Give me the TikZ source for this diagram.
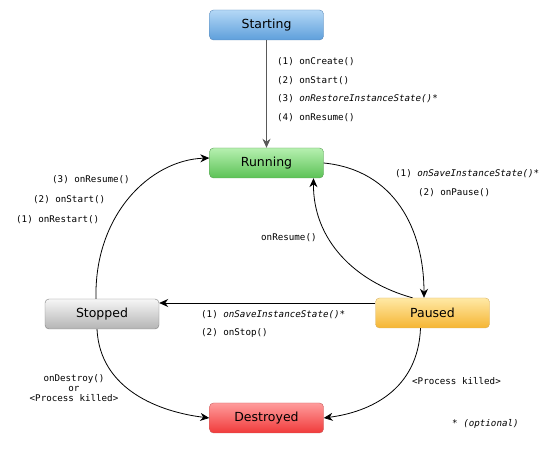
\documentclass[tikz,border=0pt]{standalone}
\usepackage{fontspec}
\setmainfont{DejaVu Sans}
\setmonofont{DejaVu Sans Mono}
\usetikzlibrary{arrows.meta,positioning}
\definecolor{bluetop}{HTML}{B4D8F6}
\definecolor{bluebot}{HTML}{5E9FDB}
\definecolor{blueline}{HTML}{5A88B8}
\definecolor{greentop}{HTML}{B6F0B0}
\definecolor{greenbot}{HTML}{5CC256}
\definecolor{greenline}{HTML}{5A9E55}
\definecolor{graytop}{HTML}{F6F6F6}
\definecolor{graybot}{HTML}{B4B4B4}
\definecolor{grayline}{HTML}{808080}
\definecolor{yellowtop}{HTML}{FFE9A6}
\definecolor{yellowbot}{HTML}{F5B533}
\definecolor{yellowline}{HTML}{D8B060}
\definecolor{redtop}{HTML}{FF9C9C}
\definecolor{redbot}{HTML}{F03A3A}
\definecolor{redline}{HTML}{C86060}
\tikzset{
  state/.style={rounded corners=4pt, minimum width=114pt, minimum height=30pt,
    inner sep=0pt, font=\fontsize{12.5}{14}\selectfont},
  shade/.style n args={3}{top color=#1, bottom color=#2, draw=#3},
  call/.style={inner sep=0pt, anchor=west, font=\fontsize{9.2}{10}\ttfamily},
  trans/.style={-{Stealth[length=9pt,width=8pt]}, thick, black},
}
\begin{document}
\begin{tikzpicture}[x=1pt,y=-1pt]
\useasboundingbox (0,0) rectangle (558,449);
%% states
\node[state,shade={bluetop}{bluebot}{blueline}] (start) at (266.5,25) {Starting};
\node[state,shade={greentop}{greenbot}{greenline}] (run) at (266.5,163) {Running};
\node[state,shade={graytop}{graybot}{grayline}] (stop) at (102,314) {Stopped};
\node[state,shade={yellowtop}{yellowbot}{yellowline}] (pause) at (432.5,313) {Paused};
\node[state,shade={redtop}{redbot}{redline}] (dest) at (266.5,418) {Destroyed};
%% transitions
\draw[trans, draw=black!65] (start) -- (run);
\draw[trans] (run.east) .. controls (395,170) and (424,230) .. (pause.north -| 424,0);
\draw[trans] ([xshift=-20pt]pause.north) .. controls (355,282) and (313,240) .. ([xshift=47pt]run.south);
\draw[trans] ([yshift=10pt]pause.west) -- ([yshift=11pt]stop.east);
\draw[trans] ([xshift=-6pt]stop.north) .. controls (94,215) and (150,160) .. ([yshift=5pt]run.west);
\draw[trans] ([xshift=-5pt]stop.south) .. controls (100,390) and (160,412) .. (dest.west);
\draw[trans] ([xshift=-12pt]pause.south) .. controls (418,390) and (370,412) .. (dest.east);
%% labels
\node[call] (c1) at (277,62) {(1) onCreate()};
\node[call] (c2) at (277,81) {(2) onStart()};
\node[call] (c3) at (277,99) {(3) \textit{onRestoreInstanceState()*}};
\node[call] (c4) at (277,118) {(4) onResume()};
\node[call] (p1) at (395,174) {(1) \textit{onSaveInstanceState()*}};
\node[call] (p2) at (418,193) {(2) onPause()};
\node[call] (r1) at (261,238) {onResume()};
\node[call] (s1) at (201,315) {(1) \textit{onSaveInstanceState()*}};
\node[call] (s2) at (201,333) {(2) onStop()};
\node[call] (b3) at (52,180) {(3) onResume()};
\node[call] (b2) at (33,200) {(2) onStart()};
\node[call] (b1) at (16,220) {(1) onRestart()};
\node[call, anchor=center, align=center] (d1) at (74,388) {onDestroy()\\or\\<Process killed>};
\node[call] (k1) at (412,381) {<Process killed>};
\node[call] (opt) at (452,424) {* \textit{(optional)}};
\end{tikzpicture}
\end{document}
